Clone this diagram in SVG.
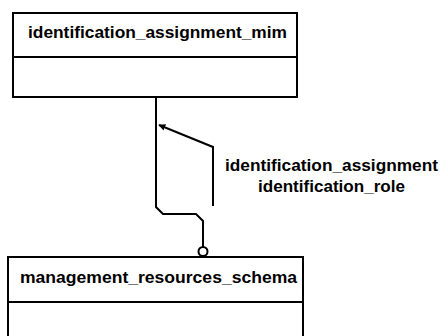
<svg xmlns="http://www.w3.org/2000/svg" width="441" height="336" viewBox="0 0 441 336">
<style>
.box{fill:#fff;stroke:#000;stroke-width:2}
.sep{stroke:#000;stroke-width:2}
.t{font-family:"Liberation Sans",Arial,sans-serif;font-weight:bold;font-size:16px;fill:#000}
.c{fill:none;stroke:#000;stroke-width:2}
</style>
<defs>
<marker id="ah" viewBox="0 0 10 10" refX="9" refY="5" markerWidth="7" markerHeight="7" orient="auto" markerUnits="userSpaceOnUse">
<path d="M0,0 L10,5 L0,10 z" fill="#000"/>
</marker>
</defs>
<rect width="441" height="336" fill="#fff"/>
<g id="connectors">
<path class="c" d="M156,97 V207 L163,214 H196 L203,221 V247"/>
<circle cx="203" cy="251.5" r="4.5" fill="#fff" stroke="#000" stroke-width="2"/>
<path class="c" d="M213,206 V147 L159,125" marker-end="url(#ah)"/>
</g>
<g id="identification_assignment_mim">
<rect class="box" x="13" y="13" width="284" height="84"/>
<line class="sep" x1="13" y1="57" x2="297" y2="57"/>
<text class="t" x="28" y="38" textLength="259" lengthAdjust="spacingAndGlyphs">identification_assignment_mim</text>
</g>
<g id="management_resources_schema">
<rect class="box" x="8" y="257" width="295" height="90"/>
<line class="sep" x1="8" y1="302" x2="303" y2="302"/>
<text class="t" x="20" y="283" textLength="277" lengthAdjust="spacingAndGlyphs">management_resources_schema</text>
</g>
<g id="label">
<text class="t" x="225" y="171" textLength="213" lengthAdjust="spacingAndGlyphs">identification_assignment</text>
<text class="t" x="258" y="192" textLength="147" lengthAdjust="spacingAndGlyphs">identification_role</text>
</g>
</svg>
